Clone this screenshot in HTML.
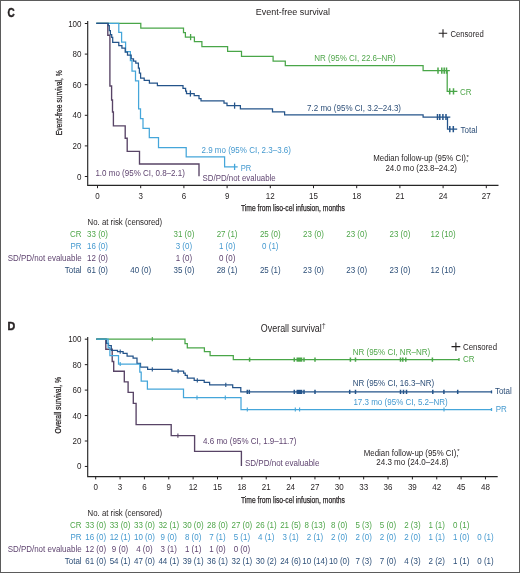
<!DOCTYPE html>
<html><head><meta charset="utf-8"><style>
html,body{margin:0;padding:0;background:#fff;}
body{width:520px;height:573px;overflow:hidden;}
svg{display:block;font-family:"Liberation Sans", sans-serif;}
svg{will-change:transform;}
</style></head><body>
<svg width="520" height="573" viewBox="0 0 520 573">
<rect x="0" y="0" width="520" height="573" fill="#fff"/>
<text x="7.4" y="16.9" font-size="12.3" fill="#231f20" text-anchor="start" textLength="7.2" lengthAdjust="spacingAndGlyphs" font-weight="bold" stroke="#231f20" stroke-width="0.45">C</text>
<text x="255.8" y="15" font-size="9.6" fill="#231f20" text-anchor="start" textLength="74.3" lengthAdjust="spacingAndGlyphs" >Event-free survival</text>
<path d="M438.7 33.3H447.2M443 29.2V37.5" stroke="#231f20" stroke-width="1.1"/>
<text x="450.4" y="36.5" font-size="8.4" fill="#231f20" text-anchor="start" textLength="33.4" lengthAdjust="spacingAndGlyphs" >Censored</text>
<path d="M87.7 21V185.4H498.5" fill="none" stroke="#262626" stroke-width="1.15"/>
<path d="M84.8 23.50H87.7" stroke="#231f20" stroke-width="1"/>
<text x="81.5" y="26.50" font-size="8.3" fill="#231f20" text-anchor="end" textLength="13.36" lengthAdjust="spacingAndGlyphs" >100</text>
<path d="M84.8 54.10H87.7" stroke="#231f20" stroke-width="1"/>
<text x="81.5" y="57.10" font-size="8.3" fill="#231f20" text-anchor="end" textLength="8.91" lengthAdjust="spacingAndGlyphs" >80</text>
<path d="M84.8 84.70H87.7" stroke="#231f20" stroke-width="1"/>
<text x="81.5" y="87.70" font-size="8.3" fill="#231f20" text-anchor="end" textLength="8.91" lengthAdjust="spacingAndGlyphs" >60</text>
<path d="M84.8 115.30H87.7" stroke="#231f20" stroke-width="1"/>
<text x="81.5" y="118.30" font-size="8.3" fill="#231f20" text-anchor="end" textLength="8.91" lengthAdjust="spacingAndGlyphs" >40</text>
<path d="M84.8 145.90H87.7" stroke="#231f20" stroke-width="1"/>
<text x="81.5" y="148.90" font-size="8.3" fill="#231f20" text-anchor="end" textLength="8.91" lengthAdjust="spacingAndGlyphs" >20</text>
<path d="M84.8 176.50H87.7" stroke="#231f20" stroke-width="1"/>
<text x="81.5" y="179.50" font-size="8.3" fill="#231f20" text-anchor="end" textLength="4.45" lengthAdjust="spacingAndGlyphs" >0</text>
<path d="M97.50 185.4V188.2" stroke="#231f20" stroke-width="1"/>
<text x="97.50" y="199" font-size="8.3" fill="#231f20" text-anchor="middle" textLength="4.45" lengthAdjust="spacingAndGlyphs" >0</text>
<path d="M140.70 185.4V188.2" stroke="#231f20" stroke-width="1"/>
<text x="140.70" y="199" font-size="8.3" fill="#231f20" text-anchor="middle" textLength="4.45" lengthAdjust="spacingAndGlyphs" >3</text>
<path d="M183.90 185.4V188.2" stroke="#231f20" stroke-width="1"/>
<text x="183.90" y="199" font-size="8.3" fill="#231f20" text-anchor="middle" textLength="4.45" lengthAdjust="spacingAndGlyphs" >6</text>
<path d="M227.10 185.4V188.2" stroke="#231f20" stroke-width="1"/>
<text x="227.10" y="199" font-size="8.3" fill="#231f20" text-anchor="middle" textLength="4.45" lengthAdjust="spacingAndGlyphs" >9</text>
<path d="M270.30 185.4V188.2" stroke="#231f20" stroke-width="1"/>
<text x="270.30" y="199" font-size="8.3" fill="#231f20" text-anchor="middle" textLength="8.91" lengthAdjust="spacingAndGlyphs" >12</text>
<path d="M313.50 185.4V188.2" stroke="#231f20" stroke-width="1"/>
<text x="313.50" y="199" font-size="8.3" fill="#231f20" text-anchor="middle" textLength="8.91" lengthAdjust="spacingAndGlyphs" >15</text>
<path d="M356.70 185.4V188.2" stroke="#231f20" stroke-width="1"/>
<text x="356.70" y="199" font-size="8.3" fill="#231f20" text-anchor="middle" textLength="8.91" lengthAdjust="spacingAndGlyphs" >18</text>
<path d="M399.90 185.4V188.2" stroke="#231f20" stroke-width="1"/>
<text x="399.90" y="199" font-size="8.3" fill="#231f20" text-anchor="middle" textLength="8.91" lengthAdjust="spacingAndGlyphs" >21</text>
<path d="M443.10 185.4V188.2" stroke="#231f20" stroke-width="1"/>
<text x="443.10" y="199" font-size="8.3" fill="#231f20" text-anchor="middle" textLength="8.91" lengthAdjust="spacingAndGlyphs" >24</text>
<path d="M486.30 185.4V188.2" stroke="#231f20" stroke-width="1"/>
<text x="486.30" y="199" font-size="8.3" fill="#231f20" text-anchor="middle" textLength="8.91" lengthAdjust="spacingAndGlyphs" >27</text>
<text x="62.4" y="102.8" font-size="9.2" fill="#231f20" text-anchor="middle" textLength="65" lengthAdjust="spacingAndGlyphs" transform="rotate(-90 62.4 102.8)" stroke="#231f20" stroke-width="0.25">Event-free survival, %</text>
<text x="293" y="211.4" font-size="9.2" fill="#231f20" text-anchor="middle" textLength="104" lengthAdjust="spacingAndGlyphs" stroke="#231f20" stroke-width="0.25">Time from liso-cel infusion, months</text>
<path d="M96.3 23.3H107.8V35.2H109.9V86H111.6V100H112.5V112H113.4V125.8H125.2V138.2H127.2V151.3H139.5V164H199V176.3" fill="none" stroke="#584466" stroke-width="1.35" stroke-linejoin="miter" stroke-linecap="butt"/>
<path d="M96.3 23.3H140.8V28H183.5V32.5H185.4V37.1H194.4V41.7H201.9V46.6H227.6V51.3H241.5V56.3H273.1V61H285.3V65.5H423.1V70.7H447.2V91.3H457.4M447.2 70.7H449.8" fill="none" stroke="#49a648" stroke-width="1.25" stroke-linejoin="miter" stroke-linecap="butt"/>
<path d="M190.6 34.00V40.20" fill="none" stroke="#49a648" stroke-width="1.3"/>
<path d="M438 67.60V73.80M441.8 67.60V73.80M444.2 67.60V73.80M446.5 67.60V73.80" fill="none" stroke="#49a648" stroke-width="1.5"/>
<path d="M449.7 88.20V94.40M453.5 88.20V94.40" fill="none" stroke="#49a648" stroke-width="1.5"/>
<path d="M96.3 23.3H118.8V32.4H121.6V42.2H125.6V51.5H130.4V60.5H132V71H135.5V80.8H138.6V108.9H140.5V118.6H143V128.4H149.3V137.7H158.5V147.5H186.2V156.9H224.6V166.9H237.7" fill="none" stroke="#45a6da" stroke-width="1.25" stroke-linejoin="miter" stroke-linecap="butt"/>
<path d="M234.6 163.80V170.00" fill="none" stroke="#45a6da" stroke-width="1.3"/>
<path d="M96.3 23.3H108.3V25.5H109.3V30.5H110.4V34.7H111.7V37.3H112.7V42.3H118.8V45.7H121.9V48.2H125.2V52.1H127.5V55H131.2V58.8H133.5V61H135.8V63.2H138.4V68H139.4V73.2H140.6V78H144.2V80.3H149.4V83.1H157.4V85.7H183V88.3H185.6V91.2H186.5V93.5H194.2V95.6H199V98.5H201V100.8H224V103H227V105.6H240.4V108.8H272.5V111.8H284.6V114.9H423.1V117H447.5V129.2H457.2M447.5 117H450.3" fill="none" stroke="#24548a" stroke-width="1.25" stroke-linejoin="miter" stroke-linecap="butt"/>
<path d="M190.4 90.40V96.60" fill="none" stroke="#24548a" stroke-width="1.3"/>
<path d="M234.6 102.50V108.70" fill="none" stroke="#24548a" stroke-width="1.3"/>
<path d="M437.5 113.90V120.10M439.8 113.90V120.10M442.9 113.90V120.10M446 113.90V120.10" fill="none" stroke="#24548a" stroke-width="1.5"/>
<path d="M449.8 126.10V132.30M453.3 126.10V132.30" fill="none" stroke="#24548a" stroke-width="1.5"/>
<text x="314.3" y="60.6" font-size="8.3" fill="#4fa64a" text-anchor="start" textLength="81.45" lengthAdjust="spacingAndGlyphs" >NR (95% CI, 22.6–NR)</text>
<text x="307.1" y="110.7" font-size="8.3" fill="#2d4f78" text-anchor="start" textLength="93.93" lengthAdjust="spacingAndGlyphs" >7.2 mo (95% CI, 3.2–24.3)</text>
<text x="201.5" y="152.9" font-size="8.3" fill="#4499cf" text-anchor="start" textLength="89.48" lengthAdjust="spacingAndGlyphs" >2.9 mo (95% CI, 2.3–3.6)</text>
<text x="95.4" y="175.5" font-size="8.3" fill="#5f4470" text-anchor="start" textLength="89.48" lengthAdjust="spacingAndGlyphs" >1.0 mo (95% CI, 0.8–2.1)</text>
<text x="459.9" y="94.5" font-size="8.3" fill="#4fa64a" text-anchor="start" textLength="11.57" lengthAdjust="spacingAndGlyphs" >CR</text>
<text x="460.5" y="133.1" font-size="8.3" fill="#2d4f78" text-anchor="start" textLength="16.92" lengthAdjust="spacingAndGlyphs" >Total</text>
<text x="240.7" y="170.6" font-size="8.3" fill="#4499cf" text-anchor="start" textLength="10.61" lengthAdjust="spacingAndGlyphs" >PR</text>
<text x="202.5" y="181" font-size="8.3" fill="#5f4470" text-anchor="start" textLength="73.19" lengthAdjust="spacingAndGlyphs" >SD/PD/not evaluable</text>
<text x="373.2" y="161.2" font-size="8.3" fill="#231f20" text-anchor="start" textLength="95" lengthAdjust="spacingAndGlyphs" >Median follow-up (95% CI),</text>
<text x="466.6" y="158.6" font-size="6" fill="#231f20" text-anchor="start" >*</text>
<text x="421.2" y="171.2" font-size="8.2" fill="#231f20" text-anchor="middle" textLength="71.6" lengthAdjust="spacingAndGlyphs" >24.0 mo (23.8–24.2)</text>
<text x="87.6" y="224.9" font-size="8.4" fill="#231f20" text-anchor="start" textLength="74.6" lengthAdjust="spacingAndGlyphs" >No. at risk (censored)</text>
<text x="81.6" y="236.90" font-size="8.3" fill="#4fa64a" text-anchor="end" textLength="11.51" lengthAdjust="spacingAndGlyphs" >CR</text>
<text x="97.50" y="236.90" font-size="8.3" fill="#4fa64a" text-anchor="middle" textLength="20.81" lengthAdjust="spacingAndGlyphs" >33 (0)</text>
<text x="183.90" y="236.90" font-size="8.3" fill="#4fa64a" text-anchor="middle" textLength="20.81" lengthAdjust="spacingAndGlyphs" >31 (0)</text>
<text x="227.10" y="236.90" font-size="8.3" fill="#4fa64a" text-anchor="middle" textLength="20.81" lengthAdjust="spacingAndGlyphs" >27 (1)</text>
<text x="270.30" y="236.90" font-size="8.3" fill="#4fa64a" text-anchor="middle" textLength="20.81" lengthAdjust="spacingAndGlyphs" >25 (0)</text>
<text x="313.50" y="236.90" font-size="8.3" fill="#4fa64a" text-anchor="middle" textLength="20.81" lengthAdjust="spacingAndGlyphs" >23 (0)</text>
<text x="356.70" y="236.90" font-size="8.3" fill="#4fa64a" text-anchor="middle" textLength="20.81" lengthAdjust="spacingAndGlyphs" >23 (0)</text>
<text x="399.90" y="236.90" font-size="8.3" fill="#4fa64a" text-anchor="middle" textLength="20.81" lengthAdjust="spacingAndGlyphs" >23 (0)</text>
<text x="443.10" y="236.90" font-size="8.3" fill="#4fa64a" text-anchor="middle" textLength="25.24" lengthAdjust="spacingAndGlyphs" >12 (10)</text>
<text x="81.6" y="248.95" font-size="8.3" fill="#4499cf" text-anchor="end" textLength="11.07" lengthAdjust="spacingAndGlyphs" >PR</text>
<text x="97.50" y="248.95" font-size="8.3" fill="#4499cf" text-anchor="middle" textLength="20.81" lengthAdjust="spacingAndGlyphs" >16 (0)</text>
<text x="183.90" y="248.95" font-size="8.3" fill="#4499cf" text-anchor="middle" textLength="16.38" lengthAdjust="spacingAndGlyphs" >3 (0)</text>
<text x="227.10" y="248.95" font-size="8.3" fill="#4499cf" text-anchor="middle" textLength="16.38" lengthAdjust="spacingAndGlyphs" >1 (0)</text>
<text x="270.30" y="248.95" font-size="8.3" fill="#4499cf" text-anchor="middle" textLength="16.38" lengthAdjust="spacingAndGlyphs" >0 (1)</text>
<text x="81.6" y="261.00" font-size="8.3" fill="#5f4470" text-anchor="end" textLength="73.97" lengthAdjust="spacingAndGlyphs" >SD/PD/not evaluable</text>
<text x="97.50" y="261.00" font-size="8.3" fill="#5f4470" text-anchor="middle" textLength="20.81" lengthAdjust="spacingAndGlyphs" >12 (0)</text>
<text x="183.90" y="261.00" font-size="8.3" fill="#5f4470" text-anchor="middle" textLength="16.38" lengthAdjust="spacingAndGlyphs" >1 (0)</text>
<text x="227.10" y="261.00" font-size="8.3" fill="#5f4470" text-anchor="middle" textLength="16.38" lengthAdjust="spacingAndGlyphs" >0 (0)</text>
<text x="81.6" y="273.05" font-size="8.3" fill="#2d4f78" text-anchor="end" textLength="16.83" lengthAdjust="spacingAndGlyphs" >Total</text>
<text x="97.50" y="273.05" font-size="8.3" fill="#2d4f78" text-anchor="middle" textLength="20.81" lengthAdjust="spacingAndGlyphs" >61 (0)</text>
<text x="140.70" y="273.05" font-size="8.3" fill="#2d4f78" text-anchor="middle" textLength="20.81" lengthAdjust="spacingAndGlyphs" >40 (0)</text>
<text x="183.90" y="273.05" font-size="8.3" fill="#2d4f78" text-anchor="middle" textLength="20.81" lengthAdjust="spacingAndGlyphs" >35 (0)</text>
<text x="227.10" y="273.05" font-size="8.3" fill="#2d4f78" text-anchor="middle" textLength="20.81" lengthAdjust="spacingAndGlyphs" >28 (1)</text>
<text x="270.30" y="273.05" font-size="8.3" fill="#2d4f78" text-anchor="middle" textLength="20.81" lengthAdjust="spacingAndGlyphs" >25 (1)</text>
<text x="313.50" y="273.05" font-size="8.3" fill="#2d4f78" text-anchor="middle" textLength="20.81" lengthAdjust="spacingAndGlyphs" >23 (0)</text>
<text x="356.70" y="273.05" font-size="8.3" fill="#2d4f78" text-anchor="middle" textLength="20.81" lengthAdjust="spacingAndGlyphs" >23 (0)</text>
<text x="399.90" y="273.05" font-size="8.3" fill="#2d4f78" text-anchor="middle" textLength="20.81" lengthAdjust="spacingAndGlyphs" >23 (0)</text>
<text x="443.10" y="273.05" font-size="8.3" fill="#2d4f78" text-anchor="middle" textLength="25.24" lengthAdjust="spacingAndGlyphs" >12 (10)</text>
<text x="7.5" y="329.5" font-size="11.6" fill="#231f20" text-anchor="start" textLength="7.7" lengthAdjust="spacingAndGlyphs" font-weight="bold" stroke="#231f20" stroke-width="0.45">D</text>
<text x="260.8" y="331.5" font-size="10" fill="#231f20" text-anchor="start" textLength="61" lengthAdjust="spacingAndGlyphs" >Overall survival</text>
<text x="322" y="327.5" font-size="6.5" fill="#231f20" text-anchor="start" >†</text>
<path d="M451.5 346.6H460.3M455.9 342.4V350.9" stroke="#231f20" stroke-width="1.1"/>
<text x="463" y="349.8" font-size="8.4" fill="#231f20" text-anchor="start" textLength="34" lengthAdjust="spacingAndGlyphs" >Censored</text>
<path d="M87.7 337V476.6H497.7" fill="none" stroke="#262626" stroke-width="1.15"/>
<path d="M84.8 339.20H87.7" stroke="#231f20" stroke-width="1"/>
<text x="81.5" y="342.20" font-size="8.3" fill="#231f20" text-anchor="end" textLength="13.36" lengthAdjust="spacingAndGlyphs" >100</text>
<path d="M84.8 364.65H87.7" stroke="#231f20" stroke-width="1"/>
<text x="81.5" y="367.65" font-size="8.3" fill="#231f20" text-anchor="end" textLength="8.91" lengthAdjust="spacingAndGlyphs" >80</text>
<path d="M84.8 390.10H87.7" stroke="#231f20" stroke-width="1"/>
<text x="81.5" y="393.10" font-size="8.3" fill="#231f20" text-anchor="end" textLength="8.91" lengthAdjust="spacingAndGlyphs" >60</text>
<path d="M84.8 415.55H87.7" stroke="#231f20" stroke-width="1"/>
<text x="81.5" y="418.55" font-size="8.3" fill="#231f20" text-anchor="end" textLength="8.91" lengthAdjust="spacingAndGlyphs" >40</text>
<path d="M84.8 441.00H87.7" stroke="#231f20" stroke-width="1"/>
<text x="81.5" y="444.00" font-size="8.3" fill="#231f20" text-anchor="end" textLength="8.91" lengthAdjust="spacingAndGlyphs" >20</text>
<path d="M84.8 466.45H87.7" stroke="#231f20" stroke-width="1"/>
<text x="81.5" y="469.45" font-size="8.3" fill="#231f20" text-anchor="end" textLength="4.45" lengthAdjust="spacingAndGlyphs" >0</text>
<path d="M95.70 476.6V479.4" stroke="#231f20" stroke-width="1"/>
<text x="95.70" y="490" font-size="8.3" fill="#231f20" text-anchor="middle" textLength="4.45" lengthAdjust="spacingAndGlyphs" >0</text>
<path d="M120.06 476.6V479.4" stroke="#231f20" stroke-width="1"/>
<text x="120.06" y="490" font-size="8.3" fill="#231f20" text-anchor="middle" textLength="4.45" lengthAdjust="spacingAndGlyphs" >3</text>
<path d="M144.42 476.6V479.4" stroke="#231f20" stroke-width="1"/>
<text x="144.42" y="490" font-size="8.3" fill="#231f20" text-anchor="middle" textLength="4.45" lengthAdjust="spacingAndGlyphs" >6</text>
<path d="M168.78 476.6V479.4" stroke="#231f20" stroke-width="1"/>
<text x="168.78" y="490" font-size="8.3" fill="#231f20" text-anchor="middle" textLength="4.45" lengthAdjust="spacingAndGlyphs" >9</text>
<path d="M193.14 476.6V479.4" stroke="#231f20" stroke-width="1"/>
<text x="193.14" y="490" font-size="8.3" fill="#231f20" text-anchor="middle" textLength="8.91" lengthAdjust="spacingAndGlyphs" >12</text>
<path d="M217.50 476.6V479.4" stroke="#231f20" stroke-width="1"/>
<text x="217.50" y="490" font-size="8.3" fill="#231f20" text-anchor="middle" textLength="8.91" lengthAdjust="spacingAndGlyphs" >15</text>
<path d="M241.86 476.6V479.4" stroke="#231f20" stroke-width="1"/>
<text x="241.86" y="490" font-size="8.3" fill="#231f20" text-anchor="middle" textLength="8.91" lengthAdjust="spacingAndGlyphs" >18</text>
<path d="M266.22 476.6V479.4" stroke="#231f20" stroke-width="1"/>
<text x="266.22" y="490" font-size="8.3" fill="#231f20" text-anchor="middle" textLength="8.91" lengthAdjust="spacingAndGlyphs" >21</text>
<path d="M290.58 476.6V479.4" stroke="#231f20" stroke-width="1"/>
<text x="290.58" y="490" font-size="8.3" fill="#231f20" text-anchor="middle" textLength="8.91" lengthAdjust="spacingAndGlyphs" >24</text>
<path d="M314.94 476.6V479.4" stroke="#231f20" stroke-width="1"/>
<text x="314.94" y="490" font-size="8.3" fill="#231f20" text-anchor="middle" textLength="8.91" lengthAdjust="spacingAndGlyphs" >27</text>
<path d="M339.30 476.6V479.4" stroke="#231f20" stroke-width="1"/>
<text x="339.30" y="490" font-size="8.3" fill="#231f20" text-anchor="middle" textLength="8.91" lengthAdjust="spacingAndGlyphs" >30</text>
<path d="M363.66 476.6V479.4" stroke="#231f20" stroke-width="1"/>
<text x="363.66" y="490" font-size="8.3" fill="#231f20" text-anchor="middle" textLength="8.91" lengthAdjust="spacingAndGlyphs" >33</text>
<path d="M388.02 476.6V479.4" stroke="#231f20" stroke-width="1"/>
<text x="388.02" y="490" font-size="8.3" fill="#231f20" text-anchor="middle" textLength="8.91" lengthAdjust="spacingAndGlyphs" >36</text>
<path d="M412.38 476.6V479.4" stroke="#231f20" stroke-width="1"/>
<text x="412.38" y="490" font-size="8.3" fill="#231f20" text-anchor="middle" textLength="8.91" lengthAdjust="spacingAndGlyphs" >39</text>
<path d="M436.74 476.6V479.4" stroke="#231f20" stroke-width="1"/>
<text x="436.74" y="490" font-size="8.3" fill="#231f20" text-anchor="middle" textLength="8.91" lengthAdjust="spacingAndGlyphs" >42</text>
<path d="M461.10 476.6V479.4" stroke="#231f20" stroke-width="1"/>
<text x="461.10" y="490" font-size="8.3" fill="#231f20" text-anchor="middle" textLength="8.91" lengthAdjust="spacingAndGlyphs" >45</text>
<path d="M485.46 476.6V479.4" stroke="#231f20" stroke-width="1"/>
<text x="485.46" y="490" font-size="8.3" fill="#231f20" text-anchor="middle" textLength="8.91" lengthAdjust="spacingAndGlyphs" >48</text>
<text x="61.0" y="405.2" font-size="9.2" fill="#231f20" text-anchor="middle" textLength="56.4" lengthAdjust="spacingAndGlyphs" transform="rotate(-90 61.0 405.2)" stroke="#231f20" stroke-width="0.25">Overall survival, %</text>
<text x="293" y="503.2" font-size="9.2" fill="#231f20" text-anchor="middle" textLength="104" lengthAdjust="spacingAndGlyphs" stroke="#231f20" stroke-width="0.25">Time from liso-cel infusion, months</text>
<path d="M96.3 339.2H105.8V349.2H112.2V361.5H113.7V371.2H124.3V381.9H128.1V392.3H133.3V403.4H136.1V424.6H171.2V435.6H194.6V451.4H241.4V466.1" fill="none" stroke="#584466" stroke-width="1.35" stroke-linejoin="miter" stroke-linecap="butt"/>
<path d="M177.9 433.50V437.70" fill="none" stroke="#584466" stroke-width="1.1"/>
<path d="M96.3 339.2H106.5V343.4H108.5V345.5H111.3V350.3H117.5V351.6H123.1V353.3H127.1V356.2H133.1V358.1H137V363.4H140.5V367.2H147.6V369.3H171.9V371.1H183.6V373H185.2V375.4H187.3V378.2H194.2V380.3H204.2V382.4H209.6V384.9H232.7V387.7H240.8V391.9H491.5" fill="none" stroke="#24548a" stroke-width="1.25" stroke-linejoin="miter" stroke-linecap="butt"/>
<path d="M120.2 349.50V353.70" fill="none" stroke="#24548a" stroke-width="1.1"/>
<path d="M152.3 367.20V371.40" fill="none" stroke="#24548a" stroke-width="1.1"/>
<path d="M178.1 369.00V373.20" fill="none" stroke="#24548a" stroke-width="1.1"/>
<path d="M197.3 378.20V382.40" fill="none" stroke="#24548a" stroke-width="1.1"/>
<path d="M225.8 382.80V387.00" fill="none" stroke="#24548a" stroke-width="1.1"/>
<path d="M247.3 389.80V394.00M249.3 389.80V394.00M294.3 389.80V394.00M304 389.80V394.00M315 389.80V394.00M349.7 389.80V394.00M355.5 389.80V394.00M400.5 389.80V394.00M403.5 389.80V394.00M406.5 389.80V394.00M432.8 389.80V394.00M443.9 389.80V394.00M457.7 389.80V394.00" fill="none" stroke="#24548a" stroke-width="1.5"/>
<rect x="296.5" y="389.80" width="5.80" height="4.2" fill="#24548a"/>
<path d="M96.3 339.2H185V343.6H187.3V347.8H204.4V351.7H210.1V355.7H233.3V359.6H459" fill="none" stroke="#49a648" stroke-width="1.25" stroke-linejoin="miter" stroke-linecap="butt"/>
<path d="M152.3 337.10V341.30" fill="none" stroke="#49a648" stroke-width="1.1"/>
<path d="M249.6 357.50V361.70M294.3 357.50V361.70M304 357.50V361.70M315 357.50V361.70M350.4 357.50V361.70M355.5 357.50V361.70M400.5 357.50V361.70M402.8 357.50V361.70M405.8 357.50V361.70M432.4 357.50V361.70" fill="none" stroke="#49a648" stroke-width="1.5"/>
<rect x="296.5" y="357.50" width="5.80" height="4.2" fill="#49a648"/>
<path d="M96.3 339.2H108.1V347.5H109.9V355.6H118.5V364H139.8V372.1H141.2V381.2H147.4V389.1H183.5V397.7H241V409.5H491.5" fill="none" stroke="#45a6da" stroke-width="1.25" stroke-linejoin="miter" stroke-linecap="butt"/>
<path d="M120.2 361.90V366.10" fill="none" stroke="#45a6da" stroke-width="1.1"/>
<path d="M197 395.60V399.80M225.3 395.60V399.80" fill="none" stroke="#45a6da" stroke-width="1.1"/>
<path d="M247.3 407.40V411.60M295.3 407.40V411.60M299.6 407.40V411.60M444 407.40V411.60" fill="none" stroke="#45a6da" stroke-width="1.1"/>
<path d="M459 358.10V361.10" fill="none" stroke="#49a648" stroke-width="1.3"/>
<path d="M491.5 390.40V393.40" fill="none" stroke="#24548a" stroke-width="1.3"/>
<path d="M491.5 408.00V411.00" fill="none" stroke="#45a6da" stroke-width="1.3"/>
<text x="352.7" y="354.8" font-size="8.3" fill="#4fa64a" text-anchor="start" textLength="77.43" lengthAdjust="spacingAndGlyphs" >NR (95% CI, NR–NR)</text>
<text x="352.7" y="386.2" font-size="8.3" fill="#2d4f78" text-anchor="start" textLength="81.45" lengthAdjust="spacingAndGlyphs" >NR (95% CI, 16.3–NR)</text>
<text x="353.4" y="405.2" font-size="8.3" fill="#4499cf" text-anchor="start" textLength="94.37" lengthAdjust="spacingAndGlyphs" >17.3 mo (95% CI, 5.2–NR)</text>
<text x="203.1" y="444.2" font-size="8.3" fill="#5f4470" text-anchor="start" textLength="93.34" lengthAdjust="spacingAndGlyphs" >4.6 mo (95% CI, 1.9–11.7)</text>
<text x="463" y="362.1" font-size="8.3" fill="#4fa64a" text-anchor="start" textLength="11.57" lengthAdjust="spacingAndGlyphs" >CR</text>
<text x="494.9" y="394.3" font-size="8.3" fill="#2d4f78" text-anchor="start" textLength="16.92" lengthAdjust="spacingAndGlyphs" >Total</text>
<text x="495.7" y="411.7" font-size="8.3" fill="#4499cf" text-anchor="start" textLength="11.13" lengthAdjust="spacingAndGlyphs" >PR</text>
<text x="245" y="466.2" font-size="8.3" fill="#5f4470" text-anchor="start" textLength="74.35" lengthAdjust="spacingAndGlyphs" >SD/PD/not evaluable</text>
<text x="363.8" y="455.7" font-size="8.3" fill="#231f20" text-anchor="start" textLength="94.7" lengthAdjust="spacingAndGlyphs" >Median follow-up (95% CI),</text>
<text x="457.2" y="453.2" font-size="6" fill="#231f20" text-anchor="start" >*</text>
<text x="412.4" y="464.9" font-size="8.2" fill="#231f20" text-anchor="middle" textLength="72.3" lengthAdjust="spacingAndGlyphs" >24.3 mo (24.0–24.8)</text>
<text x="87.6" y="515.9" font-size="8.4" fill="#231f20" text-anchor="start" textLength="74.6" lengthAdjust="spacingAndGlyphs" >No. at risk (censored)</text>
<text x="81.6" y="527.90" font-size="8.3" fill="#4fa64a" text-anchor="end" textLength="11.51" lengthAdjust="spacingAndGlyphs" >CR</text>
<text x="95.70" y="527.90" font-size="8.3" fill="#4fa64a" text-anchor="middle" textLength="20.81" lengthAdjust="spacingAndGlyphs" >33 (0)</text>
<text x="120.06" y="527.90" font-size="8.3" fill="#4fa64a" text-anchor="middle" textLength="20.81" lengthAdjust="spacingAndGlyphs" >33 (0)</text>
<text x="144.42" y="527.90" font-size="8.3" fill="#4fa64a" text-anchor="middle" textLength="20.81" lengthAdjust="spacingAndGlyphs" >33 (0)</text>
<text x="168.78" y="527.90" font-size="8.3" fill="#4fa64a" text-anchor="middle" textLength="20.81" lengthAdjust="spacingAndGlyphs" >32 (1)</text>
<text x="193.14" y="527.90" font-size="8.3" fill="#4fa64a" text-anchor="middle" textLength="20.81" lengthAdjust="spacingAndGlyphs" >30 (0)</text>
<text x="217.50" y="527.90" font-size="8.3" fill="#4fa64a" text-anchor="middle" textLength="20.81" lengthAdjust="spacingAndGlyphs" >28 (0)</text>
<text x="241.86" y="527.90" font-size="8.3" fill="#4fa64a" text-anchor="middle" textLength="20.81" lengthAdjust="spacingAndGlyphs" >27 (0)</text>
<text x="266.22" y="527.90" font-size="8.3" fill="#4fa64a" text-anchor="middle" textLength="20.81" lengthAdjust="spacingAndGlyphs" >26 (1)</text>
<text x="290.58" y="527.90" font-size="8.3" fill="#4fa64a" text-anchor="middle" textLength="20.81" lengthAdjust="spacingAndGlyphs" >21 (5)</text>
<text x="314.94" y="527.90" font-size="8.3" fill="#4fa64a" text-anchor="middle" textLength="20.81" lengthAdjust="spacingAndGlyphs" >8 (13)</text>
<text x="339.30" y="527.90" font-size="8.3" fill="#4fa64a" text-anchor="middle" textLength="16.38" lengthAdjust="spacingAndGlyphs" >8 (0)</text>
<text x="363.66" y="527.90" font-size="8.3" fill="#4fa64a" text-anchor="middle" textLength="16.38" lengthAdjust="spacingAndGlyphs" >5 (3)</text>
<text x="388.02" y="527.90" font-size="8.3" fill="#4fa64a" text-anchor="middle" textLength="16.38" lengthAdjust="spacingAndGlyphs" >5 (0)</text>
<text x="412.38" y="527.90" font-size="8.3" fill="#4fa64a" text-anchor="middle" textLength="16.38" lengthAdjust="spacingAndGlyphs" >2 (3)</text>
<text x="436.74" y="527.90" font-size="8.3" fill="#4fa64a" text-anchor="middle" textLength="16.38" lengthAdjust="spacingAndGlyphs" >1 (1)</text>
<text x="461.10" y="527.90" font-size="8.3" fill="#4fa64a" text-anchor="middle" textLength="16.38" lengthAdjust="spacingAndGlyphs" >0 (1)</text>
<text x="81.6" y="540.00" font-size="8.3" fill="#4499cf" text-anchor="end" textLength="11.07" lengthAdjust="spacingAndGlyphs" >PR</text>
<text x="95.70" y="540.00" font-size="8.3" fill="#4499cf" text-anchor="middle" textLength="20.81" lengthAdjust="spacingAndGlyphs" >16 (0)</text>
<text x="120.06" y="540.00" font-size="8.3" fill="#4499cf" text-anchor="middle" textLength="20.81" lengthAdjust="spacingAndGlyphs" >12 (1)</text>
<text x="144.42" y="540.00" font-size="8.3" fill="#4499cf" text-anchor="middle" textLength="20.81" lengthAdjust="spacingAndGlyphs" >10 (0)</text>
<text x="168.78" y="540.00" font-size="8.3" fill="#4499cf" text-anchor="middle" textLength="16.38" lengthAdjust="spacingAndGlyphs" >9 (0)</text>
<text x="193.14" y="540.00" font-size="8.3" fill="#4499cf" text-anchor="middle" textLength="16.38" lengthAdjust="spacingAndGlyphs" >8 (0)</text>
<text x="217.50" y="540.00" font-size="8.3" fill="#4499cf" text-anchor="middle" textLength="16.38" lengthAdjust="spacingAndGlyphs" >7 (1)</text>
<text x="241.86" y="540.00" font-size="8.3" fill="#4499cf" text-anchor="middle" textLength="16.38" lengthAdjust="spacingAndGlyphs" >5 (1)</text>
<text x="266.22" y="540.00" font-size="8.3" fill="#4499cf" text-anchor="middle" textLength="16.38" lengthAdjust="spacingAndGlyphs" >4 (1)</text>
<text x="290.58" y="540.00" font-size="8.3" fill="#4499cf" text-anchor="middle" textLength="16.38" lengthAdjust="spacingAndGlyphs" >3 (1)</text>
<text x="314.94" y="540.00" font-size="8.3" fill="#4499cf" text-anchor="middle" textLength="16.38" lengthAdjust="spacingAndGlyphs" >2 (1)</text>
<text x="339.30" y="540.00" font-size="8.3" fill="#4499cf" text-anchor="middle" textLength="16.38" lengthAdjust="spacingAndGlyphs" >2 (0)</text>
<text x="363.66" y="540.00" font-size="8.3" fill="#4499cf" text-anchor="middle" textLength="16.38" lengthAdjust="spacingAndGlyphs" >2 (0)</text>
<text x="388.02" y="540.00" font-size="8.3" fill="#4499cf" text-anchor="middle" textLength="16.38" lengthAdjust="spacingAndGlyphs" >2 (0)</text>
<text x="412.38" y="540.00" font-size="8.3" fill="#4499cf" text-anchor="middle" textLength="16.38" lengthAdjust="spacingAndGlyphs" >2 (0)</text>
<text x="436.74" y="540.00" font-size="8.3" fill="#4499cf" text-anchor="middle" textLength="16.38" lengthAdjust="spacingAndGlyphs" >1 (1)</text>
<text x="461.10" y="540.00" font-size="8.3" fill="#4499cf" text-anchor="middle" textLength="16.38" lengthAdjust="spacingAndGlyphs" >1 (0)</text>
<text x="485.46" y="540.00" font-size="8.3" fill="#4499cf" text-anchor="middle" textLength="16.38" lengthAdjust="spacingAndGlyphs" >0 (1)</text>
<text x="81.6" y="552.10" font-size="8.3" fill="#5f4470" text-anchor="end" textLength="73.97" lengthAdjust="spacingAndGlyphs" >SD/PD/not evaluable</text>
<text x="95.70" y="552.10" font-size="8.3" fill="#5f4470" text-anchor="middle" textLength="20.81" lengthAdjust="spacingAndGlyphs" >12 (0)</text>
<text x="120.06" y="552.10" font-size="8.3" fill="#5f4470" text-anchor="middle" textLength="16.38" lengthAdjust="spacingAndGlyphs" >9 (0)</text>
<text x="144.42" y="552.10" font-size="8.3" fill="#5f4470" text-anchor="middle" textLength="16.38" lengthAdjust="spacingAndGlyphs" >4 (0)</text>
<text x="168.78" y="552.10" font-size="8.3" fill="#5f4470" text-anchor="middle" textLength="16.38" lengthAdjust="spacingAndGlyphs" >3 (1)</text>
<text x="193.14" y="552.10" font-size="8.3" fill="#5f4470" text-anchor="middle" textLength="16.38" lengthAdjust="spacingAndGlyphs" >1 (1)</text>
<text x="217.50" y="552.10" font-size="8.3" fill="#5f4470" text-anchor="middle" textLength="16.38" lengthAdjust="spacingAndGlyphs" >1 (0)</text>
<text x="241.86" y="552.10" font-size="8.3" fill="#5f4470" text-anchor="middle" textLength="16.38" lengthAdjust="spacingAndGlyphs" >0 (0)</text>
<text x="81.6" y="564.20" font-size="8.3" fill="#2d4f78" text-anchor="end" textLength="16.83" lengthAdjust="spacingAndGlyphs" >Total</text>
<text x="95.70" y="564.20" font-size="8.3" fill="#2d4f78" text-anchor="middle" textLength="20.81" lengthAdjust="spacingAndGlyphs" >61 (0)</text>
<text x="120.06" y="564.20" font-size="8.3" fill="#2d4f78" text-anchor="middle" textLength="20.81" lengthAdjust="spacingAndGlyphs" >54 (1)</text>
<text x="144.42" y="564.20" font-size="8.3" fill="#2d4f78" text-anchor="middle" textLength="20.81" lengthAdjust="spacingAndGlyphs" >47 (0)</text>
<text x="168.78" y="564.20" font-size="8.3" fill="#2d4f78" text-anchor="middle" textLength="20.81" lengthAdjust="spacingAndGlyphs" >44 (1)</text>
<text x="193.14" y="564.20" font-size="8.3" fill="#2d4f78" text-anchor="middle" textLength="20.81" lengthAdjust="spacingAndGlyphs" >39 (1)</text>
<text x="217.50" y="564.20" font-size="8.3" fill="#2d4f78" text-anchor="middle" textLength="20.81" lengthAdjust="spacingAndGlyphs" >36 (1)</text>
<text x="241.86" y="564.20" font-size="8.3" fill="#2d4f78" text-anchor="middle" textLength="20.81" lengthAdjust="spacingAndGlyphs" >32 (1)</text>
<text x="266.22" y="564.20" font-size="8.3" fill="#2d4f78" text-anchor="middle" textLength="20.81" lengthAdjust="spacingAndGlyphs" >30 (2)</text>
<text x="290.58" y="564.20" font-size="8.3" fill="#2d4f78" text-anchor="middle" textLength="20.81" lengthAdjust="spacingAndGlyphs" >24 (6)</text>
<text x="314.94" y="564.20" font-size="8.3" fill="#2d4f78" text-anchor="middle" textLength="25.24" lengthAdjust="spacingAndGlyphs" >10 (14)</text>
<text x="339.30" y="564.20" font-size="8.3" fill="#2d4f78" text-anchor="middle" textLength="20.81" lengthAdjust="spacingAndGlyphs" >10 (0)</text>
<text x="363.66" y="564.20" font-size="8.3" fill="#2d4f78" text-anchor="middle" textLength="16.38" lengthAdjust="spacingAndGlyphs" >7 (3)</text>
<text x="388.02" y="564.20" font-size="8.3" fill="#2d4f78" text-anchor="middle" textLength="16.38" lengthAdjust="spacingAndGlyphs" >7 (0)</text>
<text x="412.38" y="564.20" font-size="8.3" fill="#2d4f78" text-anchor="middle" textLength="16.38" lengthAdjust="spacingAndGlyphs" >4 (3)</text>
<text x="436.74" y="564.20" font-size="8.3" fill="#2d4f78" text-anchor="middle" textLength="16.38" lengthAdjust="spacingAndGlyphs" >2 (2)</text>
<text x="461.10" y="564.20" font-size="8.3" fill="#2d4f78" text-anchor="middle" textLength="16.38" lengthAdjust="spacingAndGlyphs" >1 (1)</text>
<text x="485.46" y="564.20" font-size="8.3" fill="#2d4f78" text-anchor="middle" textLength="16.38" lengthAdjust="spacingAndGlyphs" >0 (1)</text>
<rect x="0.5" y="0.5" width="519" height="572" fill="none" stroke="#5b5b5b" stroke-width="1"/>
</svg>
</body></html>
